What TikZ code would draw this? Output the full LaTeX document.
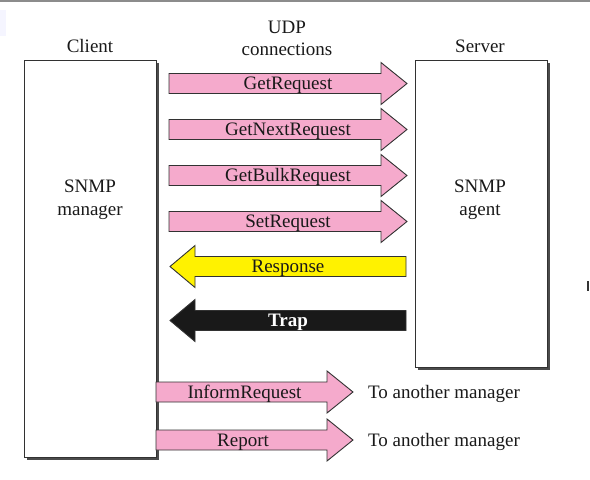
\documentclass[tikz,border=0pt]{standalone}
\usepackage{fontspec}
\setmainfont{Liberation Serif}
\usetikzlibrary{shadows}
\definecolor{pinkfill}{RGB}{245,170,204}
\definecolor{linegray}{RGB}{50,50,50}
\tikzset{
  boxstyle/.style={draw=linegray, line width=1pt, fill=white, inner sep=0pt,
    drop shadow={shadow xshift=3pt, shadow yshift=-3pt, fill=black!70, opacity=1}},
  arr/.style={draw=linegray, line width=0.9pt, line join=miter},
  lbl/.style={font=\fontsize{19}{22}\selectfont, anchor=base, inner sep=0pt, text=black!90},
}
\newcommand{\rarrow}[7]{% x1, tip x, y, fill, text, name, text centre x
  \draw[arr, fill=#4] (#1,#3-10) -- (#2-26,#3-10) -- (#2-26,#3-21) -- (#2,#3) -- (#2-26,#3+21) -- (#2-26,#3+10) -- (#1,#3+10) -- cycle;
  \node[lbl] (#6) at (#7,#3+6) {#5};}
\newcommand{\larrow}[7]{% tip x, x2, y, fill, text, name, text colour
  \draw[arr, fill=#4] (#2,#3-10) -- (#1+25,#3-10) -- (#1+25,#3-21) -- (#1,#3) -- (#1+25,#3+21) -- (#1+25,#3+10) -- (#2,#3+10) -- cycle;
  \node[lbl, text=#7] (#6) at ({(#1+#2)/2},#3+6) {#5};}
\begin{document}
\begin{tikzpicture}[x=1pt,y=-1pt]
\useasboundingbox (0,0) rectangle (590,480);
\fill[black!45] (0,0) rectangle (590,1.5);
\fill[blue!4] (0,10) rectangle (6,36);
\fill[black!80] (587.3,281) rectangle (588.6,291);
% boxes
\node[boxstyle, minimum width=132pt, minimum height=397pt] (client) at (90,258.5) {};
\node[boxstyle, minimum width=132pt, minimum height=307pt] (server) at (481,213.5) {};
% titles
\node[lbl] (clientlbl) at (90,52) {Client};
\node[lbl] (serverlbl) at (480,52) {Server};
\node[lbl] (udp) at (287,33) {UDP};
\node[lbl] (conn) at (287,55) {connections};
\node[lbl] (mgr1) at (90,192) {SNMP};
\node[lbl] (mgr2) at (90,215) {manager};
\node[lbl] (ag1) at (480,192) {SNMP};
\node[lbl] (ag2) at (480,215) {agent};
% arrows
\rarrow{169}{407}{83.5}{pinkfill}{GetRequest}{getreq}{288}
\rarrow{169}{407}{129.5}{pinkfill}{GetNextRequest}{getnext}{288}
\rarrow{169}{407}{175.5}{pinkfill}{GetBulkRequest}{getbulk}{288}
\rarrow{169}{407}{221.5}{pinkfill}{SetRequest}{setreq}{288}
\larrow{170}{406}{266.5}{yellow}{Response}{resp}{black!90}
\larrow{170}{406}{320.5}{black!90}{\textbf{Trap}}{trap}{white}
\rarrow{156}{353}{392}{pinkfill}{InformRequest}{inform}{244.5}
\rarrow{156}{353}{440}{pinkfill}{Report}{report}{243}
\node[lbl, anchor=base west] (to1) at (368,398) {To another manager};
\node[lbl, anchor=base west] (to2) at (368,446) {To another manager};
\end{tikzpicture}
\end{document}
